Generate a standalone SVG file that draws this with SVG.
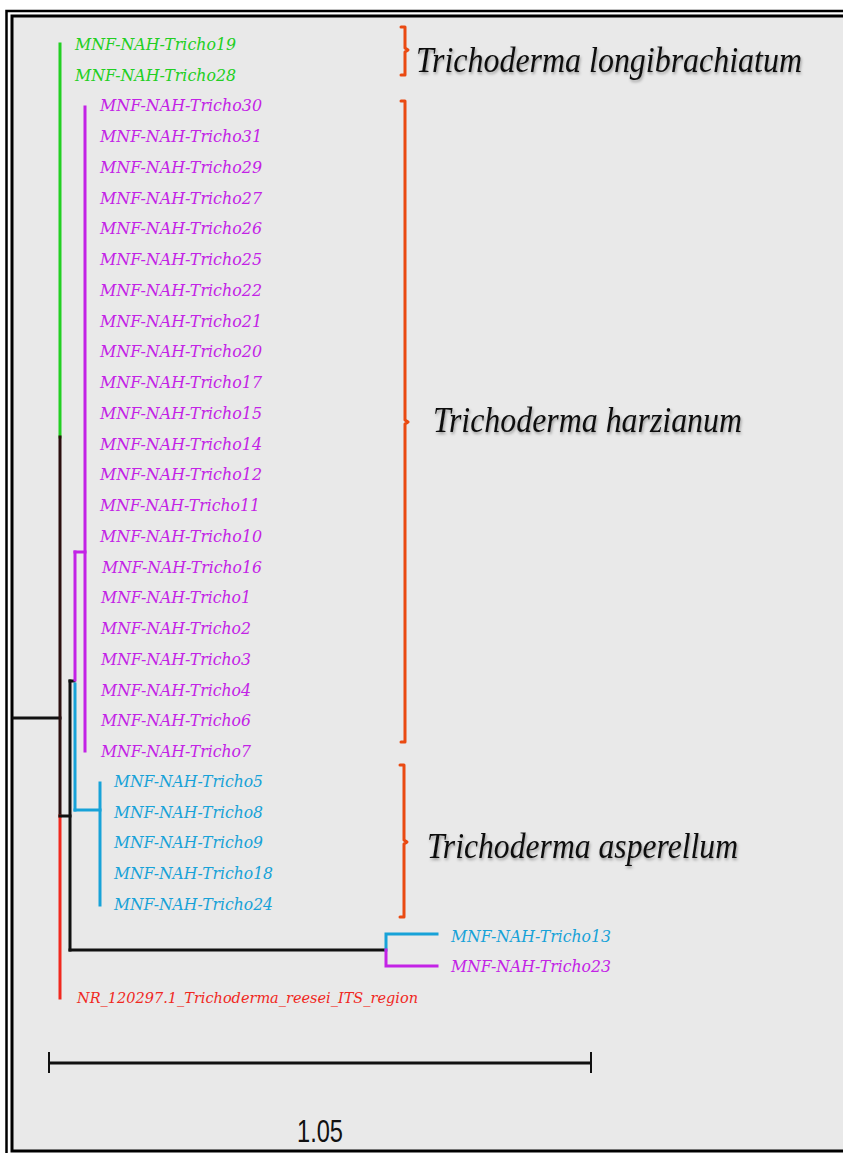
<svg xmlns="http://www.w3.org/2000/svg" width="843" height="1153" viewBox="0 0 843 1153">
<defs>
<style>
.lf{font-family:"DejaVu Serif","Liberation Serif",serif;font-style:italic;font-size:17px}
.g{fill:#22cf22}.m{fill:#c323e6}.b{fill:#17a2d8}.r{fill:#f0281e}
.sp{font-family:"Liberation Serif","DejaVu Serif",serif;font-style:italic;font-size:35px;fill:#111}
.br{fill:none;stroke:#ea4a12;stroke-width:3;stroke-linecap:round;stroke-linejoin:round}
.ln{fill:none;stroke-width:3;stroke-linecap:square}
</style>
<filter id="sh" x="-5%" y="-20%" width="110%" height="150%">
<feDropShadow dx="1" dy="2" stdDeviation="1.4" flood-color="#000" flood-opacity="0.35"/>
</filter>
</defs>
<rect x="0" y="0" width="843" height="1153" fill="#fff"/>
<rect x="6.5" y="11" width="860" height="1160" fill="none" stroke="#000" stroke-width="2.5"/>
<rect x="12" y="16" width="850" height="1135" fill="#e9e9e9" stroke="#000" stroke-width="3"/>

<g id="connectors">
<line class="ln" x1="14" y1="718" x2="60" y2="718" stroke="#111"/>
<line class="ln" x1="60" y1="44" x2="60" y2="437" stroke="#22cf22"/>
<line class="ln" x1="60" y1="437" x2="60" y2="816" stroke="#2a0f0f"/>
<line class="ln" x1="60" y1="816" x2="60" y2="998" stroke="#f0281e"/>
<line class="ln" x1="60" y1="816" x2="70" y2="816" stroke="#111"/>
<line class="ln" x1="70" y1="681" x2="70" y2="950" stroke="#111"/>
<line class="ln" x1="70" y1="681" x2="74" y2="681" stroke="#111"/>
<line class="ln" x1="75" y1="552" x2="75" y2="680" stroke="#c323e6"/>
<line class="ln" x1="75" y1="552" x2="85" y2="552" stroke="#c323e6"/>
<line class="ln" x1="85" y1="107" x2="85" y2="751" stroke="#c323e6"/>
<line class="ln" x1="75" y1="684" x2="75" y2="810" stroke="#17a2d8"/>
<line class="ln" x1="75" y1="810" x2="100" y2="810" stroke="#17a2d8"/>
<line class="ln" x1="100" y1="783" x2="100" y2="905" stroke="#17a2d8"/>
<line class="ln" x1="70" y1="950" x2="384" y2="950" stroke="#111"/>
<path class="ln" d="M386,950 V934 H437" stroke="#17a2d8"/>
<path class="ln" d="M386,950 V966 H437" stroke="#c323e6"/>
<line x1="48" y1="1063" x2="592" y2="1063" stroke="#111" stroke-width="3"/>
<line x1="49" y1="1052" x2="49" y2="1073" stroke="#111" stroke-width="2"/>
<line x1="591" y1="1052" x2="591" y2="1073" stroke="#111" stroke-width="2"/>
</g>

<g id="brackets">
<path class="br" d="M401,27 H405 V48 L408,50 L405,52 V75 H401"/>
<path class="br" d="M401,101 H405 V420 L408,422 L405,424 V742 H401"/>
<path class="br" d="M400,765 H404 V840 L407,842 L404,844 V917 H400"/>
</g>

<g id="leaves">
<g id="t19"><text class="lf g" x="75" y="50" textLength="161" lengthAdjust="spacingAndGlyphs">MNF-NAH-Tricho19</text></g>
<g id="t28"><text class="lf g" x="75" y="81" textLength="161" lengthAdjust="spacingAndGlyphs">MNF-NAH-Tricho28</text></g>
<g id="t30"><text class="lf m" x="100" y="111" textLength="162" lengthAdjust="spacingAndGlyphs">MNF-NAH-Tricho30</text></g>
<g id="t31"><text class="lf m" x="100" y="142" textLength="162" lengthAdjust="spacingAndGlyphs">MNF-NAH-Tricho31</text></g>
<g id="t29"><text class="lf m" x="100" y="173" textLength="162" lengthAdjust="spacingAndGlyphs">MNF-NAH-Tricho29</text></g>
<g id="t27"><text class="lf m" x="100" y="204" textLength="162" lengthAdjust="spacingAndGlyphs">MNF-NAH-Tricho27</text></g>
<g id="t26"><text class="lf m" x="100" y="234" textLength="162" lengthAdjust="spacingAndGlyphs">MNF-NAH-Tricho26</text></g>
<g id="t25"><text class="lf m" x="100" y="265" textLength="162" lengthAdjust="spacingAndGlyphs">MNF-NAH-Tricho25</text></g>
<g id="t22"><text class="lf m" x="100" y="296" textLength="162" lengthAdjust="spacingAndGlyphs">MNF-NAH-Tricho22</text></g>
<g id="t21"><text class="lf m" x="100" y="327" textLength="162" lengthAdjust="spacingAndGlyphs">MNF-NAH-Tricho21</text></g>
<g id="t20"><text class="lf m" x="100" y="357" textLength="162" lengthAdjust="spacingAndGlyphs">MNF-NAH-Tricho20</text></g>
<g id="t17"><text class="lf m" x="100" y="388" textLength="162" lengthAdjust="spacingAndGlyphs">MNF-NAH-Tricho17</text></g>
<g id="t15"><text class="lf m" x="100" y="419" textLength="162" lengthAdjust="spacingAndGlyphs">MNF-NAH-Tricho15</text></g>
<g id="t14"><text class="lf m" x="100" y="450" textLength="162" lengthAdjust="spacingAndGlyphs">MNF-NAH-Tricho14</text></g>
<g id="t12"><text class="lf m" x="100" y="480" textLength="162" lengthAdjust="spacingAndGlyphs">MNF-NAH-Tricho12</text></g>
<g id="t11"><text class="lf m" x="100" y="511" textLength="160" lengthAdjust="spacingAndGlyphs">MNF-NAH-Tricho11</text></g>
<g id="t10"><text class="lf m" x="100" y="542" textLength="162" lengthAdjust="spacingAndGlyphs">MNF-NAH-Tricho10</text></g>
<g id="t16"><text class="lf m" x="102" y="573" textLength="160" lengthAdjust="spacingAndGlyphs">MNF-NAH-Tricho16</text></g>
<g id="t1"><text class="lf m" x="101" y="603" textLength="150" lengthAdjust="spacingAndGlyphs">MNF-NAH-Tricho1</text></g>
<g id="t2"><text class="lf m" x="101" y="634" textLength="150" lengthAdjust="spacingAndGlyphs">MNF-NAH-Tricho2</text></g>
<g id="t3"><text class="lf m" x="101" y="665" textLength="150" lengthAdjust="spacingAndGlyphs">MNF-NAH-Tricho3</text></g>
<g id="t4"><text class="lf m" x="101" y="696" textLength="150" lengthAdjust="spacingAndGlyphs">MNF-NAH-Tricho4</text></g>
<g id="t6"><text class="lf m" x="101" y="726" textLength="150" lengthAdjust="spacingAndGlyphs">MNF-NAH-Tricho6</text></g>
<g id="t7"><text class="lf m" x="101" y="757" textLength="150" lengthAdjust="spacingAndGlyphs">MNF-NAH-Tricho7</text></g>
<g id="t5"><text class="lf b" x="114" y="787" textLength="149" lengthAdjust="spacingAndGlyphs">MNF-NAH-Tricho5</text></g>
<g id="t8"><text class="lf b" x="114" y="818" textLength="149" lengthAdjust="spacingAndGlyphs">MNF-NAH-Tricho8</text></g>
<g id="t9"><text class="lf b" x="114" y="848" textLength="149" lengthAdjust="spacingAndGlyphs">MNF-NAH-Tricho9</text></g>
<g id="t18"><text class="lf b" x="114" y="879" textLength="159" lengthAdjust="spacingAndGlyphs">MNF-NAH-Tricho18</text></g>
<g id="t24"><text class="lf b" x="114" y="910" textLength="159" lengthAdjust="spacingAndGlyphs">MNF-NAH-Tricho24</text></g>
<g id="t13"><text class="lf b" x="451" y="942" textLength="160" lengthAdjust="spacingAndGlyphs">MNF-NAH-Tricho13</text></g>
<g id="t23"><text class="lf m" x="451" y="972" textLength="160" lengthAdjust="spacingAndGlyphs">MNF-NAH-Tricho23</text></g>
<g id="nr"><text class="lf r" x="77" y="1003" style="font-size:15px" textLength="341" lengthAdjust="spacingAndGlyphs">NR_120297.1_Trichoderma_reesei_ITS_region</text></g>
</g>

<g id="species" filter="url(#sh)">
<g id="sp-longi"><text class="sp" x="416" y="72" textLength="386" lengthAdjust="spacingAndGlyphs">Trichoderma longibrachiatum</text></g>
<g id="sp-harz"><text class="sp" x="433" y="432" textLength="309" lengthAdjust="spacingAndGlyphs">Trichoderma harzianum</text></g>
<g id="sp-asp"><text class="sp" x="427" y="858" textLength="311" lengthAdjust="spacingAndGlyphs">Trichoderma asperellum</text></g>
</g>

<g id="scale"><text x="320" y="1142" text-anchor="middle" font-family="Liberation Sans, Arial, sans-serif" font-size="32" fill="#111" textLength="46" lengthAdjust="spacingAndGlyphs">1.05</text></g>
</svg>
